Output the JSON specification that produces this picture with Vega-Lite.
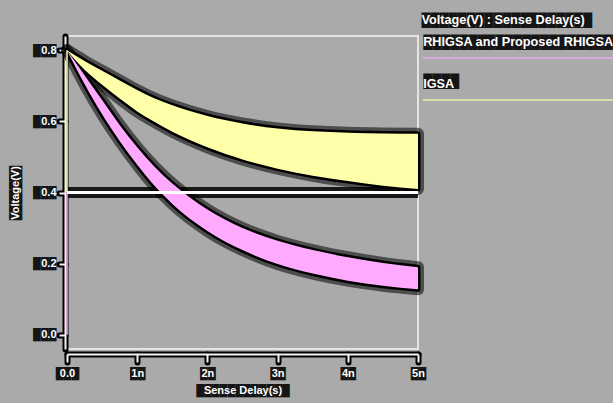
{
  "$schema": "https://vega.github.io/schema/vega-lite/v6.json",
  "width": 351,
  "height": 313,
  "autosize": {"type": "none"},
  "padding": {"left": 67, "top": 36, "right": 195, "bottom": 54},
  "background": "#aaaaaa",
  "config": {
    "view": {"stroke": "#e4e4e4", "strokeWidth": 2},
    "font": "Liberation Sans"
  },
  "datasets": {
    "bands": [
      {"t": 0, "series": "IGSA", "hi": 0.8, "lo": 0.8},
      {"t": 0.25, "series": "IGSA", "hi": 0.77, "lo": 0.745},
      {"t": 0.5, "series": "IGSA", "hi": 0.742, "lo": 0.703},
      {"t": 0.75, "series": "IGSA", "hi": 0.715, "lo": 0.664},
      {"t": 1, "series": "IGSA", "hi": 0.688, "lo": 0.628},
      {"t": 1.25, "series": "IGSA", "hi": 0.664, "lo": 0.598},
      {"t": 1.5, "series": "IGSA", "hi": 0.645, "lo": 0.571},
      {"t": 2, "series": "IGSA", "hi": 0.615, "lo": 0.527},
      {"t": 2.5, "series": "IGSA", "hi": 0.594, "lo": 0.493},
      {"t": 3, "series": "IGSA", "hi": 0.58, "lo": 0.467},
      {"t": 3.5, "series": "IGSA", "hi": 0.572, "lo": 0.447},
      {"t": 4, "series": "IGSA", "hi": 0.568, "lo": 0.432},
      {"t": 4.5, "series": "IGSA", "hi": 0.566, "lo": 0.419},
      {"t": 5, "series": "IGSA", "hi": 0.565, "lo": 0.41},
      {"t": 0, "series": "RHIGSA and Proposed RHIGSA", "hi": 0.8, "lo": 0.8},
      {"t": 0.25, "series": "RHIGSA and Proposed RHIGSA", "hi": 0.73, "lo": 0.705},
      {"t": 0.5, "series": "RHIGSA and Proposed RHIGSA", "hi": 0.66, "lo": 0.62},
      {"t": 0.75, "series": "RHIGSA and Proposed RHIGSA", "hi": 0.59, "lo": 0.545},
      {"t": 1, "series": "RHIGSA and Proposed RHIGSA", "hi": 0.527, "lo": 0.478},
      {"t": 1.25, "series": "RHIGSA and Proposed RHIGSA", "hi": 0.472, "lo": 0.418},
      {"t": 1.5, "series": "RHIGSA and Proposed RHIGSA", "hi": 0.425, "lo": 0.368},
      {"t": 2, "series": "RHIGSA and Proposed RHIGSA", "hi": 0.352, "lo": 0.292},
      {"t": 2.5, "series": "RHIGSA and Proposed RHIGSA", "hi": 0.3, "lo": 0.238},
      {"t": 3, "series": "RHIGSA and Proposed RHIGSA", "hi": 0.264, "lo": 0.199},
      {"t": 3.5, "series": "RHIGSA and Proposed RHIGSA", "hi": 0.238, "lo": 0.172},
      {"t": 4, "series": "RHIGSA and Proposed RHIGSA", "hi": 0.218, "lo": 0.152},
      {"t": 4.5, "series": "RHIGSA and Proposed RHIGSA", "hi": 0.202, "lo": 0.138},
      {"t": 5, "series": "RHIGSA and Proposed RHIGSA", "hi": 0.19, "lo": 0.128}
    ],
    "threshold": [{"t0": 0, "t1": 5, "level": 0.4}],
    "reset": [
      {"t": 0, "series": "IGSA", "top": 0.8, "bottom": 0.4},
      {"t": 0, "series": "RHIGSA and Proposed RHIGSA", "top": 0.4, "bottom": 0.0}
    ]
  },
  "resolve": {
    "axis": {"x": "independent", "y": "independent"},
    "legend": {"stroke": "independent", "fill": "independent"}
  },
  "layer": [
    {
      "data": {"name": "bands"},
      "mark": {"type": "area", "interpolate": "monotone", "fillOpacity": 0, "strokeWidth": 12, "strokeOpacity": 0.55, "strokeJoin": "round"},
      "encoding": {
        "x": {
          "field": "t", "type": "quantitative",
          "scale": {"domain": [0, 5], "nice": false, "zero": false},
          "axis": {
            "orient": "bottom", "offset": 5, "grid": false,
            "values": [0, 1, 2, 3, 4, 5],
            "labelExpr": "replace(datum.value == 0 ? '0.0' : datum.value + 'n', regexp('.', 'g'), '█')",
            "title": "████████████",
            "domainColor": "#000000", "domainWidth": 6, "domainCap": "round",
            "tickColor": "#000000", "tickWidth": 6, "tickCap": "round", "tickSize": 8,
            "labelColor": "#000000", "labelFont": "Liberation Sans", "labelFontSize": 11, "labelFontWeight": "bold",
            "labelPadding": 5, "labelFlush": false, "labelOverlap": false, "labelOpacity": 0.9,
            "titleColor": "#000000", "titleFont": "Liberation Sans", "titleFontSize": 11, "titleFontWeight": "bold", "titlePadding": 6, "titleOpacity": 0.9
          }
        },
        "y": {
          "field": "hi", "type": "quantitative",
          "scale": {"domain": [-0.04, 0.84], "nice": false, "zero": false},
          "axis": {
            "orient": "left", "offset": 2, "grid": false,
            "values": [0, 0.2, 0.4, 0.6, 0.8],
            "labelExpr": "replace(format(datum.value, '.1f'), regexp('.', 'g'), '█')",
            "title": "███████",
            "domainColor": "#000000", "domainWidth": 6, "domainCap": "round",
            "tickColor": "#000000", "tickWidth": 6, "tickCap": "round", "tickSize": 6,
            "labelColor": "#000000", "labelFont": "Liberation Sans", "labelFontSize": 11, "labelFontWeight": "bold",
            "labelPadding": 3, "labelFlush": false, "labelOverlap": false, "labelOpacity": 0.9,
            "titleColor": "#000000", "titleFont": "Liberation Sans", "titleFontSize": 11, "titleFontWeight": "bold", "titlePadding": 12, "titleOpacity": 0.9
          }
        },
        "y2": {"field": "lo"},
        "stroke": {
          "field": "series", "type": "nominal",
          "scale": {"domain": ["RHIGSA and Proposed RHIGSA", "IGSA"], "range": ["#000000", "#000000"]},
          "legend": {
            "orient": "none", "legendX": 354.5, "legendY": -22,
            "title": "███████████████████",
            "titleFont": "Liberation Sans", "titleFontSize": 12.7, "titleFontWeight": "bold", "titleColor": "#000000",
            "titlePadding": 9, "titleLimit": 400, "titleOpacity": 0.9,
            "labelExpr": "replace(datum.label, regexp('.', 'g'), '█')",
            "labelFont": "Liberation Sans", "labelFontSize": 12.7, "labelFontWeight": "bold", "labelColor": "#000000",
            "labelLimit": 400, "labelOffset": -11, "labelOpacity": 0.9,
            "symbolType": "M-2.06,6.4H80", "symbolSize": 25, "symbolStrokeWidth": 1.5, "symbolOpacity": 0,
            "rowPadding": 16, "zindex": 0
          }
        }
      }
    },
    {
      "data": {"name": "threshold"},
      "mark": {"type": "rule", "color": "#000000", "strokeWidth": 11, "strokeOpacity": 0.85},
      "encoding": {
        "x": {"field": "t0", "type": "quantitative", "scale": {"domain": [0, 5], "nice": false, "zero": false}, "axis": null},
        "x2": {"field": "t1"},
        "y": {"field": "level", "type": "quantitative", "scale": {"domain": [-0.04, 0.84], "nice": false, "zero": false}, "axis": null}
      }
    },
    {
      "data": {"name": "bands"},
      "mark": {"type": "area", "interpolate": "monotone", "fill": "#000000", "stroke": "#000000", "strokeWidth": 5, "strokeJoin": "round"},
      "encoding": {
        "x": {"field": "t", "type": "quantitative", "scale": {"domain": [0, 5], "nice": false, "zero": false}, "axis": null},
        "y": {"field": "hi", "type": "quantitative", "scale": {"domain": [-0.04, 0.84], "nice": false, "zero": false}, "axis": null},
        "y2": {"field": "lo"},
        "detail": {"field": "series", "type": "nominal"}
      }
    },
    {
      "data": {"name": "bands"},
      "mark": {"type": "area", "interpolate": "monotone", "opacity": 1},
      "encoding": {
        "x": {
          "field": "t", "type": "quantitative",
          "scale": {"domain": [0, 5], "nice": false, "zero": false},
          "axis": {
            "orient": "bottom", "offset": 5, "grid": false,
            "values": [0, 1, 2, 3, 4, 5],
            "labelExpr": "datum.value == 0 ? '0.0' : datum.value + 'n'",
            "title": "Sense Delay(s)",
            "domainColor": "#f2f2f2", "domainWidth": 2,
            "tickColor": "#f2f2f2", "tickWidth": 2, "tickSize": 8,
            "labelColor": "#ffffff", "labelFont": "Liberation Sans", "labelFontSize": 11, "labelFontWeight": "bold",
            "labelPadding": 5, "labelFlush": false, "labelOverlap": false,
            "titleColor": "#ffffff", "titleFont": "Liberation Sans", "titleFontSize": 11, "titleFontWeight": "bold", "titlePadding": 6
          }
        },
        "y": {
          "field": "hi", "type": "quantitative",
          "scale": {"domain": [-0.04, 0.84], "nice": false, "zero": false},
          "axis": {
            "orient": "left", "offset": 2, "grid": false,
            "values": [0, 0.2, 0.4, 0.6, 0.8], "format": ".1f",
            "title": "Voltage(V)",
            "domainColor": "#f2f2f2", "domainWidth": 2,
            "tickColor": "#f2f2f2", "tickWidth": 2, "tickSize": 6,
            "labelColor": "#ffffff", "labelFont": "Liberation Sans", "labelFontSize": 11, "labelFontWeight": "bold",
            "labelPadding": 3, "labelFlush": false, "labelOverlap": false,
            "titleColor": "#ffffff", "titleFont": "Liberation Sans", "titleFontSize": 11, "titleFontWeight": "bold", "titlePadding": 20
          }
        },
        "y2": {"field": "lo"},
        "fill": {
          "field": "series", "type": "nominal",
          "scale": {"domain": ["RHIGSA and Proposed RHIGSA", "IGSA"], "range": ["#ffaaff", "#ffffaa"]},
          "legend": null
        }
      }
    },
    {
      "data": {"name": "reset"},
      "mark": {"type": "rule", "strokeWidth": 1.5},
      "encoding": {
        "x": {"field": "t", "type": "quantitative", "scale": {"domain": [0, 5], "nice": false, "zero": false}, "axis": null},
        "y": {"field": "top", "type": "quantitative", "scale": {"domain": [-0.04, 0.84], "nice": false, "zero": false}, "axis": null},
        "y2": {"field": "bottom"},
        "color": {
          "field": "series", "type": "nominal",
          "scale": {"domain": ["RHIGSA and Proposed RHIGSA", "IGSA"], "range": ["#ffaaff", "#ffffaa"]},
          "legend": {
            "orient": "none", "legendX": 354.5, "legendY": -22,
            "title": "Voltage(V) : Sense Delay(s)",
            "titleFont": "Liberation Sans", "titleFontSize": 12.7, "titleFontWeight": "bold", "titleColor": "#ffffff",
            "titlePadding": 9, "titleLimit": 400,
            "labelFont": "Liberation Sans", "labelFontSize": 12.7, "labelFontWeight": "bold", "labelColor": "#ffffff",
            "labelLimit": 400, "labelOffset": -11,
            "symbolType": "M-2.06,6.4H80", "symbolSize": 25, "symbolStrokeWidth": 1.5, "symbolOpacity": 0.8,
            "rowPadding": 16, "zindex": 1
          }
        }
      }
    },
    {
      "data": {"name": "threshold"},
      "mark": {"type": "rule", "color": "#ffffff", "strokeWidth": 3},
      "encoding": {
        "x": {"field": "t0", "type": "quantitative", "scale": {"domain": [0, 5], "nice": false, "zero": false}, "axis": null},
        "x2": {"field": "t1"},
        "y": {"field": "level", "type": "quantitative", "scale": {"domain": [-0.04, 0.84], "nice": false, "zero": false}, "axis": null}
      }
    }
  ]
}
